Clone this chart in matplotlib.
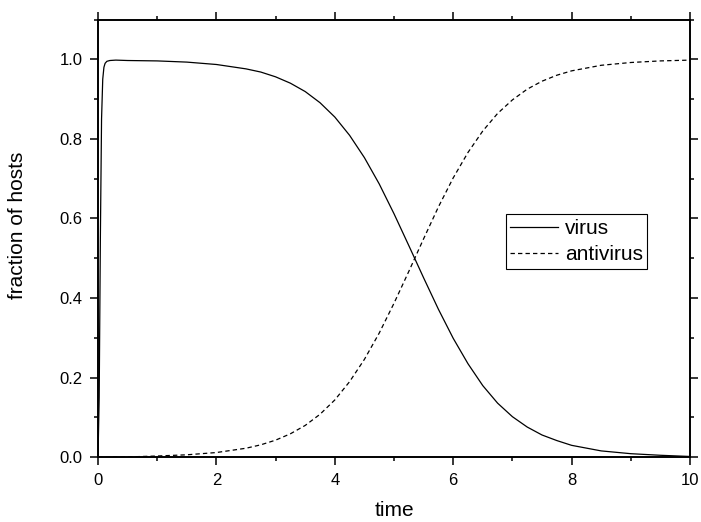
import numpy as np
import matplotlib
matplotlib.use('Agg')
import matplotlib.pyplot as plt
from matplotlib.ticker import MultipleLocator, FormatStrFormatter

# Fração de hospedeiros infectados (vírus) e protegidos (antivírus) ao longo do tempo
tempo = [0.0, 0.02, 0.04, 0.06, 0.08, 0.10, 0.12, 0.15, 0.20, 0.30, 0.50,
         1.0, 1.5, 2.0, 2.5, 2.75, 3.0, 3.25, 3.5, 3.75, 4.0, 4.25, 4.5,
         4.75, 5.0, 5.25, 5.5, 5.75, 6.0, 6.25, 6.5, 6.75, 7.0, 7.25, 7.5,
         7.75, 8.0, 8.5, 9.0, 9.5, 10.0]

virus = [0.0, 0.15, 0.55, 0.85, 0.95, 0.980, 0.990, 0.995, 0.997, 0.998, 0.997,
         0.996, 0.993, 0.987, 0.976, 0.968, 0.956, 0.940, 0.919, 0.891, 0.855,
         0.809, 0.753, 0.687, 0.612, 0.532, 0.451, 0.372, 0.299, 0.235, 0.180,
         0.136, 0.102, 0.076, 0.056, 0.042, 0.030, 0.016, 0.009, 0.005, 0.002]

antivirus = [0.0, 0.0, 0.0001, 0.0002, 0.0003, 0.0004, 0.0004, 0.0005, 0.0005,
             0.0006, 0.0008, 0.0032, 0.0062, 0.0119, 0.0227, 0.0313, 0.0430,
             0.0590, 0.080, 0.108, 0.144, 0.190, 0.246, 0.312, 0.387, 0.467,
             0.549, 0.629, 0.702, 0.766, 0.820, 0.864, 0.898, 0.925, 0.945,
             0.960, 0.971, 0.985, 0.992, 0.996, 0.998]

plt.rcParams['font.family'] = ['Liberation Sans', 'DejaVu Sans']

fig = plt.figure(figsize=(7.01, 5.22), dpi=100)
ax = fig.add_axes([0.1398, 0.124, 0.8445, 0.8386])

ax.plot(tempo, virus, color='black', linewidth=0.9, label='virus')
ax.plot(tempo, antivirus, color='black', linewidth=0.9,
        linestyle=(0, (3.5, 2.5)), label='antivirus')

ax.set_xlim(0, 10)
ax.set_ylim(0, 1.1)
ax.xaxis.set_major_locator(MultipleLocator(2))
ax.xaxis.set_minor_locator(MultipleLocator(1))
ax.yaxis.set_major_locator(MultipleLocator(0.2))
ax.yaxis.set_minor_locator(MultipleLocator(0.1))
ax.yaxis.set_major_formatter(FormatStrFormatter('%.1f'))

for lado in ax.spines.values():
    lado.set_linewidth(1.4)

ax.tick_params(which='both', direction='out', top=True, right=True,
               labelsize=12, width=1.1)
ax.tick_params(which='major', length=6, pad=5)
ax.tick_params(which='minor', length=3.2)

ax.set_xlabel('time', fontsize=15, labelpad=10)
ax.set_ylabel('fraction of hosts', fontsize=15)
ax.yaxis.set_label_coords(-0.12, 0.53)

leg = ax.legend(loc='upper left', bbox_to_anchor=(0.689, 0.555),
                borderaxespad=0, fontsize=15, handlelength=2.3,
                handletextpad=0.3, borderpad=0.22, labelspacing=0.35,
                fancybox=False, framealpha=1, edgecolor='black')
leg.get_frame().set_linewidth(0.8)

fig.savefig('out.png', dpi=100)
